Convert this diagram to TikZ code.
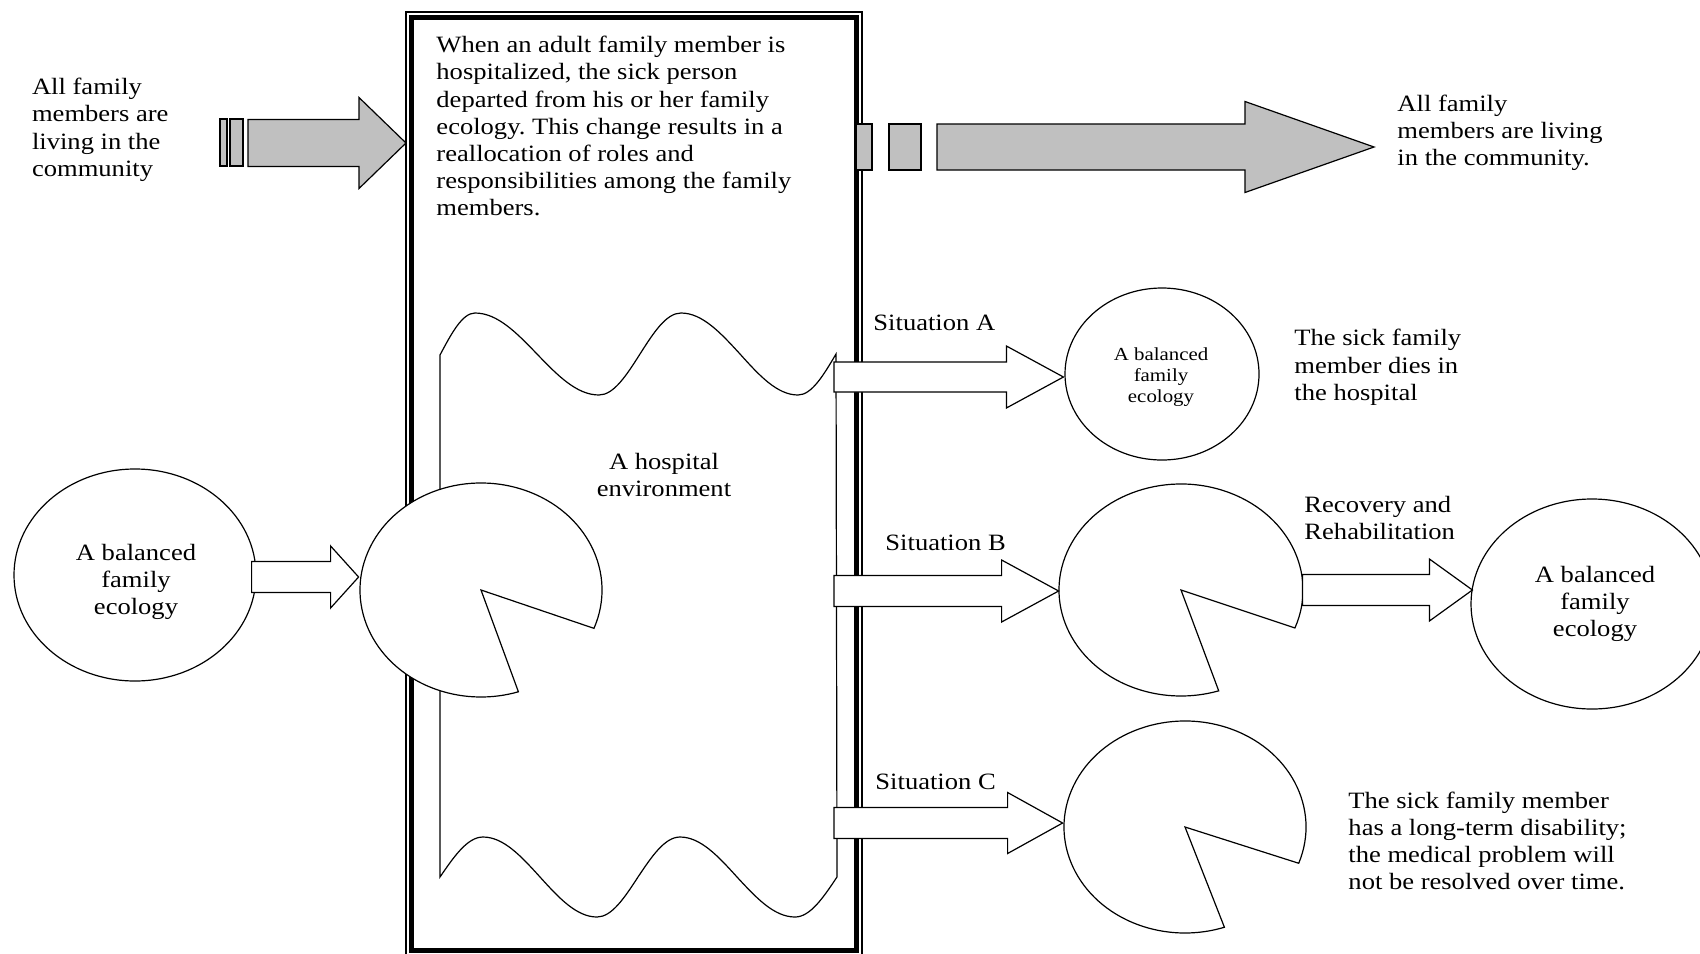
\documentclass[tikz,border=0pt]{standalone}
\usepackage{fontspec}
\setmainfont{Liberation Serif}
\frenchspacing
\usetikzlibrary{calc,shapes.geometric}
\definecolor{gfill}{HTML}{C0C0C0}
\newcommand\barrow[6][]{\draw[arr,#1] let \p1=(#2), \p2=(#3) in
 (\x1,\y2+#4) -- (\x2-#6,\y2+#4) -- (\x2-#6,\y2+#5) -- (\x2,\y2) -- (\x2-#6,\y2-#5) -- (\x2-#6,\y2-#4) -- (\x1,\y2-#4) -- cycle;}
\tikzset{
 stretch/.style={xscale=1.135, transform shape},
 txt/.style={stretch, font=\fontsize{11.7}{13.6}\selectfont, inner sep=0pt, align=left, anchor=north west},
 ctxt/.style={txt, align=center, anchor=north},
 smalltxt/.style={ctxt, font=\fontsize{9.2}{10.65}\selectfont},
 lbl/.style={stretch, font=\fontsize{11.7}{13.6}\selectfont, inner sep=0pt, anchor=base west},
 circ/.style={ellipse, draw, line width=0.6pt, fill=white, inner sep=0pt},
 ghost/.style={ellipse, inner sep=0pt},
 arr/.style={draw, line width=0.6pt, fill=white, line join=miter},
 garr/.style={fill=gfill},
 pac/.style={draw, line width=0.6pt, fill=white},
}
\begin{document}
\begin{tikzpicture}[x=0.5pt, y=-0.5pt]
\useasboundingbox (0,0) rectangle (1700,953);
\clip (0,0) rectangle (1700,953);
% hospital box
\draw[line width=0.75pt] (406,12) rectangle (862,962);
\draw[line width=2.8pt] (411.5,17.5) rectangle (856.5,950.5);
\coordinate (boxW) at (406,143);
\coordinate (hospR) at (834,600);
% hospital environment (wavy shape)
\draw[line width=0.6pt, fill=white] (440,877) -- (440,355) sin (475,313) cos (537,354) sin (599,395) cos (640,354) sin (681,313) cos (740,354) sin (798,395) cos (836,354) -- (837,877) sin (795,917) cos (737,877) sin (680,837) cos (638,877) sin (597,917) cos (540,877) sin (483,837) cos (440,877) -- cycle;
% texts
\node[txt] (t0) at (31.6,75.3) {\strut All family\\members are\\living in the\\community};
\node[txt] (t1) at (436,33.3) {\strut When an adult family member is\\hospitalized, the sick person\\departed from his or her family\\ecology. This change results in a\\reallocation of roles and\\responsibilities among the family\\members.};
\node[txt] (t2) at (1397,91.7) {\strut All family\\members are living\\in the community.};
\node[ctxt] (hosp) at (664,450) {\strut A hospital\\environment};
% ellipses
\node[circ, minimum width=121pt, minimum height=106pt] (e0) at (135,575) {};
\node[ctxt] at (136,541) {\strut A balanced\\family\\ecology};
\node[circ, minimum width=97pt, minimum height=86pt] (cA) at (1162,374) {};
\node[smalltxt] at (1161,345) {\strut A balanced\\family\\ecology};
\node[circ, minimum width=121pt, minimum height=105pt] (eR) at (1592,604) {};
\node[ctxt] at (1595,563) {\strut A balanced\\family\\ecology};
% pacmen
\node[ghost, minimum width=121pt, minimum height=107pt] (p1) at (481,590) {};
\draw[pac] (481,590) -- +(-21:60.5pt and 53.5pt) arc[start angle=-21, end angle=288, x radius=60.5pt, y radius=53.5pt] -- cycle;
\node[ghost, minimum width=122pt, minimum height=106pt] (pB) at (1180,589) {};
\draw[pac] (1181,590) -- +(-21:61pt and 53pt) arc[start angle=-21, end angle=288, x radius=61pt, y radius=53pt] -- cycle;
\node[ghost, minimum width=121pt, minimum height=106pt] (pC) at (1184,827) {};
\draw[pac] (1185,827) -- +(-20:60.5pt and 53pt) arc[start angle=-20, end angle=289, x radius=60.5pt, y radius=53pt] -- cycle;
% grey arrows
\draw[arr,garr] (220,119) rectangle (227,166);
\draw[arr,garr] (230,119) rectangle (243,166);
\coordinate (gL) at (248,143);
\barrow[garr]{gL}{boxW}{11.75pt}{22.75pt}{23.5pt}
\draw[arr,garr] (856,124) rectangle (872,170);
\draw[arr,garr] (889,124) rectangle (921,170);
\coordinate (gR0) at (937,147);
\coordinate (gR1) at (1374,147);
\barrow[garr]{gR0}{gR1}{11.5pt}{22.75pt}{64.5pt}
% white block arrows
\barrow{$(e0.east)+(-5,0)$}{$(p1.west|-e0.east)+(-1,2)$}{7.75pt}{15.5pt}{14pt}
\barrow{hospR}{$(cA.west)+(-1,3)$}{7.5pt}{15.5pt}{28.5pt}
\barrow{hospR}{$(pB.west)+(1,2)$}{7.75pt}{15.5pt}{28.5pt}
\barrow{pB.east}{$(eR.west|-pB.east)+(2,1)$}{7.75pt}{15.5pt}{21.5pt}
\barrow{hospR}{$(pC.west)+(0,-4)$}{7.75pt}{15.25pt}{27.5pt}
% labels
\node[lbl] (sA) at (873,330) {Situation A};
\node[lbl] (sB) at (885,550.5) {Situation B};
\node[lbl] (sC) at (875,789.3) {Situation C};
\node[txt] (tA) at (1294,326.5) {\strut The sick family\\member dies in\\the hospital};
\node[txt] (rec) at (1304,492.7) {\strut Recovery and\\Rehabilitation};
\node[txt] (tC) at (1348,788.7) {\strut The sick family member\\has a long-term disability;\\the medical problem will\\not be resolved over time.};
\end{tikzpicture}
\end{document}
